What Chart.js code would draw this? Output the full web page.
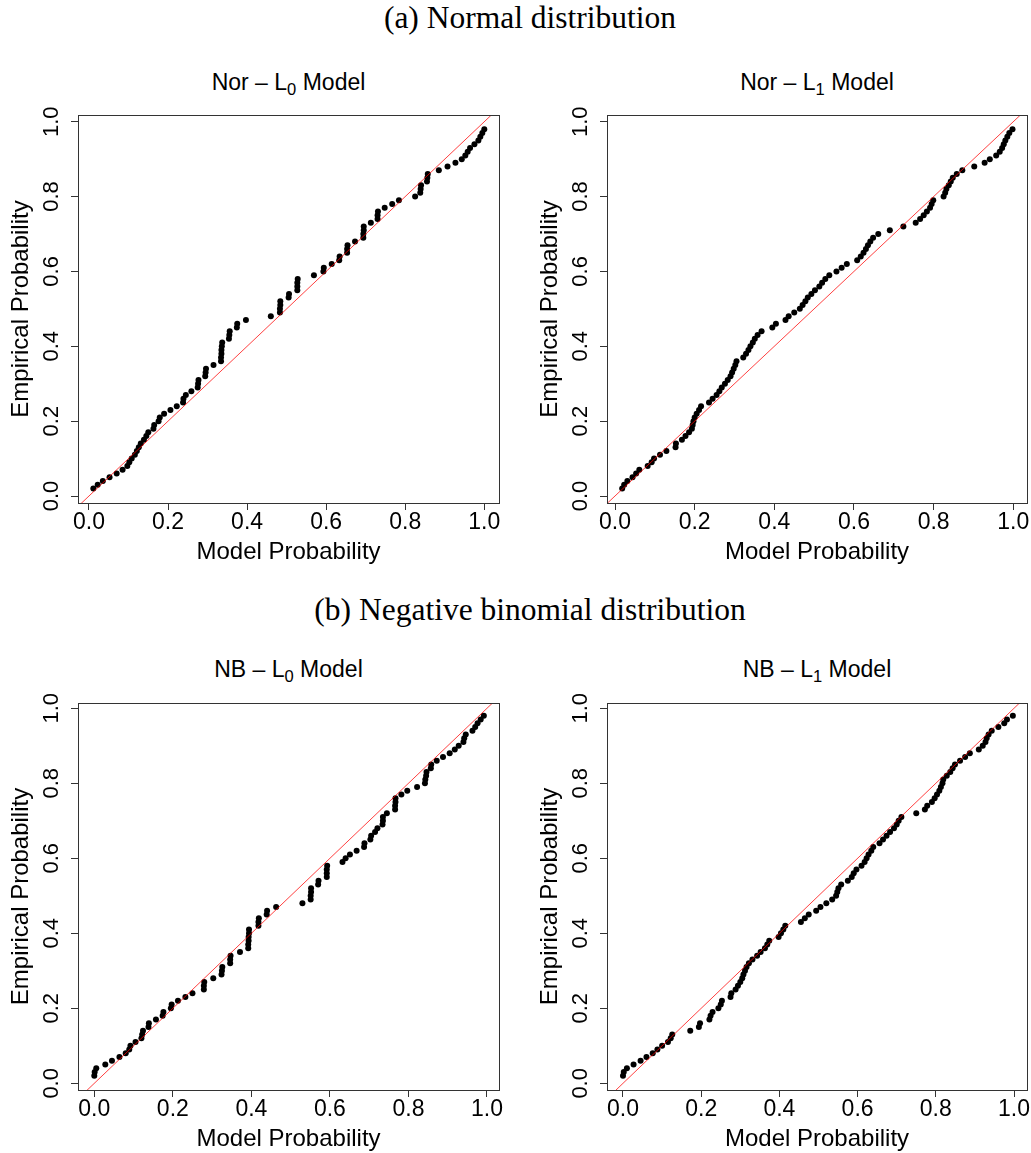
<!DOCTYPE html>
<html><head><meta charset="utf-8">
<script src="https://cdn.jsdelivr.net/npm/chart.js@4.4.1/dist/chart.umd.min.js"></script>
<style>
html,body{margin:0;padding:0;background:#fff;overflow:hidden;width:1031px;height:1153px;}
#page{position:relative;width:1031px;height:1153px;overflow:hidden;background:#fff;}
.sec{position:absolute;left:0;width:1060px;text-align:center;font-family:'Liberation Serif','Times New Roman',serif;font-size:31.5px;line-height:31.5px;color:#000;white-space:nowrap;}
.ptitle{position:absolute;text-align:center;font-family:'Liberation Sans',Arial,sans-serif;font-size:23px;line-height:23px;color:#000;white-space:nowrap;}
.ptitle sub{font-size:0.72em;vertical-align:-0.28em;line-height:0;}
canvas{position:absolute;}
</style></head>
<body><div id="page">
<div class="sec" style="top:1.6px">(a) Normal distribution</div>
<div class="sec" style="top:593.6px">(b) Negative binomial distribution</div>
<div class="ptitle" style="left:78px;width:421px;top:70.5px">Nor – L<sub>0</sub> Model</div>
<div class="ptitle" style="left:607px;width:420px;top:70.5px">Nor – L<sub>1</sub> Model</div>
<div class="ptitle" style="left:78px;width:421px;top:658px">NB – L<sub>0</sub> Model</div>
<div class="ptitle" style="left:607px;width:420px;top:658px">NB – L<sub>1</sub> Model</div>
<canvas id="c1" width="516" height="464" style="left:0;top:100px"></canvas>
<canvas id="c2" width="515" height="464" style="left:529px;top:100px"></canvas>
<canvas id="c3" width="516" height="463" style="left:0;top:688px"></canvas>
<canvas id="c4" width="515" height="463" style="left:529px;top:688px"></canvas>
</div>
<script>
// ---- data ----
const tickValues = [0.0, 0.2, 0.4, 0.6, 0.8, 1.0];
const refLine = [-0.1, 1.1];   // y = x reference line
const empiricalProb = [
  0.02,0.03,0.04,0.05,0.06,0.07,0.08,0.09,0.10,0.11,
  0.12,0.13,0.14,0.15,0.16,0.17,0.18,0.19,0.20,0.21,
  0.22,0.23,0.24,0.25,0.26,0.27,0.28,0.29,0.30,0.31,
  0.32,0.33,0.34,0.35,0.36,0.37,0.38,0.39,0.40,0.41,
  0.42,0.43,0.44,0.45,0.46,0.47,0.48,0.49,0.50,0.51,
  0.52,0.53,0.54,0.55,0.56,0.57,0.58,0.59,0.60,0.61,
  0.62,0.63,0.64,0.65,0.66,0.67,0.68,0.69,0.70,0.71,
  0.72,0.73,0.74,0.75,0.76,0.77,0.78,0.79,0.80,0.81,
  0.82,0.83,0.84,0.85,0.86,0.87,0.88,0.89,0.90,0.91,
  0.92,0.93,0.94,0.95,0.96,0.97,0.98
];
const norL0Model = [
  0.011,0.022,0.035,0.052,0.070,0.085,0.097,0.102,0.108,0.116,
  0.121,0.126,0.131,0.139,0.145,0.150,0.163,0.165,0.176,0.179,
  0.190,0.206,0.222,0.238,0.239,0.245,0.259,0.275,0.276,0.277,
  0.294,0.295,0.296,0.315,0.334,0.334,0.335,0.335,0.336,0.337,
  0.354,0.355,0.356,0.374,0.375,0.397,0.460,0.483,0.483,0.484,
  0.484,0.505,0.506,0.527,0.527,0.527,0.528,0.569,0.593,0.594,
  0.614,0.633,0.634,0.653,0.653,0.654,0.673,0.694,0.694,0.695,
  0.695,0.713,0.730,0.730,0.731,0.748,0.767,0.784,0.825,0.838,
  0.839,0.840,0.855,0.856,0.857,0.885,0.907,0.927,0.943,0.952,
  0.958,0.964,0.975,0.985,0.990,0.995,1.000
];
const norL1Model = [
  0.018,0.023,0.031,0.044,0.053,0.061,0.082,0.092,0.098,0.113,
  0.129,0.152,0.153,0.168,0.177,0.186,0.193,0.195,0.197,0.200,
  0.205,0.211,0.216,0.236,0.245,0.255,0.262,0.268,0.276,0.283,
  0.290,0.294,0.298,0.302,0.305,0.322,0.329,0.335,0.340,0.346,
  0.351,0.358,0.368,0.395,0.404,0.428,0.436,0.450,0.464,0.471,
  0.478,0.484,0.493,0.502,0.513,0.520,0.528,0.538,0.556,0.569,
  0.582,0.608,0.617,0.624,0.630,0.635,0.641,0.648,0.661,0.690,
  0.724,0.755,0.766,0.775,0.783,0.791,0.795,0.799,0.825,0.829,
  0.832,0.838,0.843,0.848,0.858,0.872,0.902,0.928,0.941,0.957,
  0.966,0.972,0.976,0.980,0.985,0.990,0.998
];
const nbL0Model = [
  0.000,0.001,0.005,0.028,0.045,0.064,0.080,0.089,0.092,0.105,
  0.120,0.122,0.124,0.138,0.139,0.157,0.174,0.176,0.195,0.197,
  0.213,0.232,0.250,0.279,0.279,0.280,0.303,0.324,0.325,0.326,
  0.346,0.346,0.347,0.371,0.392,0.392,0.393,0.393,0.394,0.394,
  0.418,0.418,0.419,0.439,0.440,0.463,0.530,0.551,0.551,0.552,
  0.552,0.570,0.571,0.592,0.592,0.592,0.593,0.632,0.640,0.651,
  0.668,0.687,0.688,0.703,0.705,0.715,0.721,0.734,0.735,0.735,
  0.745,0.766,0.766,0.767,0.767,0.782,0.797,0.822,0.842,0.843,
  0.845,0.846,0.857,0.858,0.872,0.888,0.905,0.918,0.928,0.940,
  0.942,0.946,0.963,0.970,0.976,0.984,0.992
];
const nbL1Model = [
  0.000,0.002,0.010,0.027,0.045,0.060,0.076,0.088,0.100,0.115,
  0.122,0.126,0.172,0.194,0.197,0.221,0.224,0.229,0.244,0.250,
  0.253,0.275,0.277,0.288,0.294,0.300,0.305,0.308,0.312,0.316,
  0.322,0.331,0.343,0.352,0.363,0.369,0.374,0.398,0.404,0.410,
  0.415,0.455,0.465,0.475,0.494,0.505,0.520,0.535,0.545,0.548,
  0.551,0.558,0.575,0.585,0.590,0.597,0.610,0.618,0.623,0.628,
  0.635,0.640,0.656,0.665,0.674,0.683,0.693,0.700,0.705,0.712,
  0.750,0.772,0.778,0.790,0.797,0.803,0.809,0.813,0.817,0.819,
  0.828,0.837,0.843,0.849,0.862,0.875,0.887,0.910,0.920,0.927,
  0.930,0.935,0.943,0.960,0.975,0.982,0.997
];
// axis limits of each panel (R's 4% range extension)
const norL0Limits = {x: [-0.0278, 1.0372], y: [-0.0187, 1.0179]};
const norL1Limits = {x: [-0.0201, 1.0344], y: [-0.0187, 1.0179]};
const nbL0Limits  = {x: [-0.0415, 1.0306], y: [-0.0178, 1.0141]};
const nbL1Limits  = {x: [-0.0409, 1.0332], y: [-0.0178, 1.0141]};

// ---- drawing ----
const SANS = "'Liberation Sans', Arial, Helvetica, sans-serif";
const boxPlugin = {
  id: 'plotBox',
  afterDatasetsDraw(chart) {
    const {ctx, chartArea: a} = chart;
    ctx.save();
    ctx.strokeStyle = '#333';
    ctx.lineWidth = 1;
    ctx.strokeRect(Math.round(a.left) + 0.5, Math.round(a.top) + 0.5,
                   Math.round(a.right - a.left), Math.round(a.bottom - a.top));
    ctx.restore();
  }
};
const setTicks = s => { s.ticks = tickValues.map(v => ({value: v})); };
const fmt = v => Number(v).toFixed(1);

function makePanel(id, modelProb, lim) {
  const pts = modelProb.map((x, i) => ({x: x, y: empiricalProb[i]}));
  const line = refLine.map(v => ({x: v, y: v}));
  new Chart(document.getElementById(id), {
    type: 'scatter',
    data: {datasets: [
      {data: line, showLine: true, borderColor: 'rgba(255,0,0,0.75)', borderWidth: 1,
       pointRadius: 0, pointHoverRadius: 0, fill: false},
      {data: pts, pointRadius: 3.0, pointHoverRadius: 3.0, pointBorderWidth: 0,
       pointBackgroundColor: '#000', pointBorderColor: '#000',
       backgroundColor: '#000', borderColor: '#000'}
    ]},
    options: {
      responsive: false, animation: false, events: [],
      layout: {padding: {left: 0, top: 14, right: 17, bottom: 0}},
      plugins: {legend: {display: false}, tooltip: {enabled: false}, title: {display: false}},
      scales: {
        x: {
          type: 'linear', position: 'bottom', min: lim.x[0], max: lim.x[1],
          afterBuildTicks: setTicks,
          afterFit: s => { s.height = 61; },
          grid: {display: true, drawOnChartArea: false, drawTicks: true, tickLength: 7, color: '#333', lineWidth: 1},
          border: {display: false},
          ticks: {color: '#000', font: {family: SANS, size: 23, lineHeight: 1}, padding: 1,
                  minRotation: 0, maxRotation: 0, autoSkip: false, callback: fmt},
          title: {display: true, text: 'Model Probability', color: '#000',
                  font: {family: SANS, size: 24, lineHeight: 1}, padding: {top: 0, bottom: 0}}
        },
        y: {
          type: 'linear', position: 'left', min: lim.y[0], max: lim.y[1],
          afterBuildTicks: setTicks,
          afterFit: s => { s.width = 78; },
          grid: {display: true, drawOnChartArea: false, drawTicks: true, tickLength: 7, color: '#333', lineWidth: 1},
          border: {display: false},
          ticks: {color: '#000', font: {family: SANS, size: 22, lineHeight: 1}, padding: 4,
                  minRotation: 90, maxRotation: 90, crossAlign: 'center', autoSkip: false, callback: fmt},
          title: {display: true, text: 'Empirical Probability', color: '#000',
                  font: {family: SANS, size: 24, lineHeight: 1}, padding: {top: 9, bottom: 0}}
        }
      }
    },
    plugins: [boxPlugin]
  });
}
makePanel('c1', norL0Model, norL0Limits);
makePanel('c2', norL1Model, norL1Limits);
makePanel('c3', nbL0Model, nbL0Limits);
makePanel('c4', nbL1Model, nbL1Limits);
</script>
</body></html>
